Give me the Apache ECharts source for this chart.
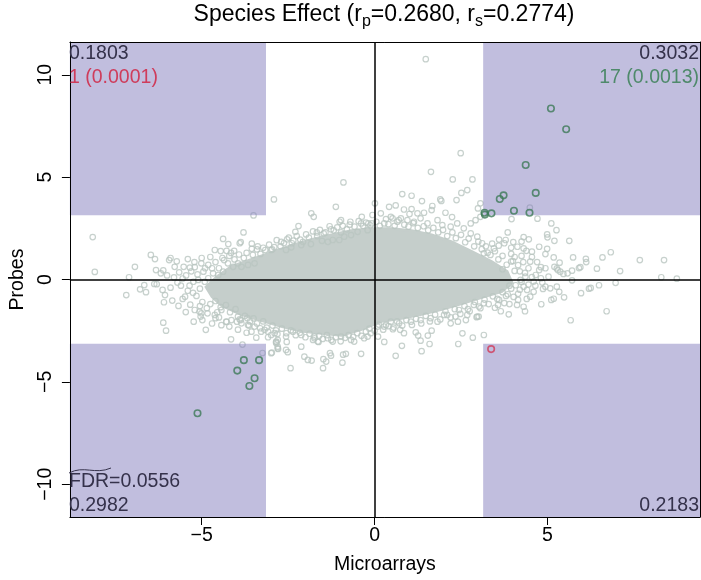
<!DOCTYPE html>
<html>
<head>
<meta charset="utf-8">
<script src="https://cdn.jsdelivr.net/npm/echarts@6/dist/echarts.min.js"></script>
<style>html,body{margin:0;padding:0;background:#fff}#c{width:701px;height:580px}</style>
</head>
<body>
<div id="c"></div>
<script>
// ---------- data ----------
const xRange = [-8.81, 9.41];
const yRange = [-11.6, 11.6];
const threshold = 3.14;
const xTicks = [-5, 0, 5];
const yTicks = [-10, -5, 0, 5, 10];
const titleParts = ['Species Effect (r', 'p', '=0.2680, r', 's', '=0.2774)'];
const cornerTop = { left: '0.1803', right: '0.3032' };
const cornerBottom = { left: '0.2982', right: '0.2183' };
const countLeft = '1 (0.0001)';
const countRight = '17 (0.0013)';
const fdrLabel = 'FDR=0.0556';

// outline of the saturated (overlapping) dense core of the grey cloud
const coreOutline = [
  [-4.87,-0.37],[-4.57,0.12],[-4.14,0.63],[-3.57,0.97],[-2.99,1.31],[-2.41,1.65],[-1.83,1.94],
  [-1.25,2.18],[-0.67,2.38],[-0.09,2.48],[0.49,2.48],[1.07,2.38],[1.65,2.18],[2.23,1.84],
  [2.81,1.36],[3.39,0.87],[3.83,0.39],[3.97,-0.15],[3.68,-0.58],[3.10,-0.87],[2.52,-1.17],
  [1.94,-1.46],[1.36,-1.70],[0.78,-1.89],[0.20,-2.04],[-0.38,-2.43],[-0.96,-2.72],[-1.54,-2.62],
  [-2.12,-2.52],[-2.70,-2.28],[-3.28,-1.99],[-3.86,-1.70],[-4.43,-1.26],[-4.70,-0.83]
];

// sparse and outlying probes
const greyPoints = [
  [1.48,10.76],[2.49,6.17],[-8.15,2.07],[-8.09,0.37],
  [-2.91,3.91],[-0.90,4.74],[-3.50,3.13],[-1.12,3.55],[0.01,3.72],[-1.83,3.23],[-1.76,3.06],[-3.79,2.30],
  [-2.20,2.61],[-2.29,2.33],[-4.38,1.98],[-4.23,1.73],[-3.87,1.83],[-3.90,1.77],[-4.62,1.44],[-4.45,1.39],
  [-4.28,1.40],[-4.06,1.40],[-3.55,1.50],[-3.40,1.47],[-3.16,1.44],
  [-6.47,1.20],[-6.35,1.00],[-6.93,0.62],[-7.10,0.11],[-7.18,-0.76],[-6.32,0.46],[-6.11,0.45],[-6.18,0.30],
  [-5.90,1.05],[-5.94,0.95],[-5.72,0.89],[-5.78,0.62],[-5.52,0.62],[-5.34,0.58],[-5.21,0.85],[-6.66,-0.27],
  [-6.78,-0.48],[-6.61,-0.62],[-6.37,-0.22],[-6.30,-0.23],[-6.13,-0.51],[-6.06,-0.76],[-6.09,-1.11],
  [-5.85,-1.03],[-5.67,-1.29],[-5.48,-0.84],[-5.33,-1.23],[-5.46,-1.59],[-5.23,-2.06],[-6.11,-2.11],[-6.03,-2.50],
  [-5.06,-1.57],[-5.03,-1.81],[-4.98,-1.98],[-4.88,-2.46],[-4.83,-1.65],[-4.60,-1.89],[-4.43,-2.23],
  [-4.28,-2.07],[-4.15,-2.92],
  [-3.98,-2.06],[-3.87,-1.98],[-3.68,-1.89],[-3.63,-2.25],[-3.56,-2.55],[-3.42,-2.84],[-3.31,-2.38],
  [-3.08,-2.82],[-2.85,-3.06],[-2.81,-2.66],[-3.82,-3.18],[-3.24,-3.59],
  [-2.97,-3.57],[-2.79,-3.39],[-2.54,-3.05],[-2.51,-3.55],[-2.12,-3.28],[-2.03,-3.77],[-1.74,-2.79],
  [-1.62,-3.05],[-1.29,-3.60],[-1.26,-3.72],[-0.91,-3.67],[-0.39,-3.63],[-0.20,-2.79],[0.28,-3.05],[0.61,-3.73],
  [-2.43,-4.33],[-1.93,-3.93],[-1.82,-3.96],[-1.48,-3.89],[-1.40,-4.01],[-0.93,-4.06],[-0.83,-3.63],[-1.49,-4.33],
  [-1.01,2.82],[-0.97,2.90],[-0.70,2.82],[-1.67,2.30],[-1.47,2.25],[-1.26,2.45],[-1.52,1.89],[-0.97,2.30],
  [-0.37,3.06],[-0.39,2.74],[-0.18,2.74],[-0.06,3.15],[-0.08,2.74],[-2.70,1.84],[-2.53,1.96],[-2.39,1.77],[-2.96,1.47],
  [1.63,5.26],[2.26,4.89],[2.83,4.89],[2.68,4.37],[2.51,4.23],[2.37,3.88],[0.80,4.17],[1.07,4.09],[1.37,3.83],
  [0.42,3.55],[0.61,3.62],[0.85,3.42],[1.07,3.44],[1.67,3.59],[1.65,3.39],[1.90,3.91],[1.93,3.84],[2.05,3.26],
  [2.24,3.05],[0.47,3.06],[0.52,2.99],[0.76,2.99],[1.01,3.20],[1.24,3.23],[1.43,3.26],[3.06,3.72],[2.99,3.47],
  [2.78,2.74],[2.92,2.90],[3.06,3.06],[3.16,3.23],
  [0.79,-3.24],[1.36,-3.50],[1.59,-3.15],[2.42,-3.15],[2.54,-2.63],[2.84,-2.84],[3.16,-2.71],[0.10,-2.79],
  [1.19,-2.58],[1.26,-2.74],[1.33,-2.99],[1.54,-2.74],[1.65,-2.50],[0.85,-2.62],[0.74,-2.46],[0.53,-2.43],[0.28,-2.30],
  [1.82,-2.06],[2.10,-1.73],[2.34,-1.81],[2.41,-2.06],[2.68,-1.73],[2.97,-1.81],[2.70,-1.45],[3.06,-1.40],
  [3.96,2.95],[4.71,2.97],[5.11,2.74],[5.26,2.41],[4.99,2.20],[5.00,2.06],[5.20,1.89],[5.63,1.89],[4.31,2.07],
  [4.46,1.96],[4.01,1.83],[3.79,1.93],[3.75,1.77],[3.59,1.65],[3.45,1.52],[3.27,1.31],[4.31,1.52],[4.39,1.40],
  [4.55,1.36],[4.50,0.87],[4.76,1.60],[4.94,1.24],[4.99,1.50],[5.18,1.08],[5.35,0.82],[5.20,0.62],[5.30,0.46],
  [5.46,0.27],[5.71,0.43],[5.91,0.56],[5.95,0.60],[5.74,1.08],[6.11,1.01],[6.12,0.85],[6.43,0.53],[6.59,1.08],
  [6.83,1.33],[7.10,0.41],[7.67,0.95],[8.37,0.95],[8.29,0.11],[8.74,0.04],[6.97,-0.16],[6.49,-0.28],[6.20,-0.45],
  [5.97,-0.67],[6.25,-0.41],[6.71,-1.55],[5.67,-1.99],[5.48,-0.87],[5.34,-0.60],[5.18,-0.94],[5.11,-1.00],
  [4.82,-1.21],[5.27,-0.35],[5.08,-0.43],[4.94,-0.35],[4.87,-0.46],[5.03,0.14],[4.81,0.06],[4.76,0.46],[4.94,0.55],
  [4.66,0.22],[3.88,-1.70],[4.31,-1.33],[4.12,-1.24],[4.50,-0.84],[4.41,-0.51],[3.01,-1.81],[2.95,-1.84],
  [2.64,-1.98],[2.20,-2.14],[3.57,-1.24],[3.48,-1.38],[4.36,0.14],[4.22,-0.02],[4.31,-0.35],[4.13,1.60],[4.81,0.60],
  [5.71,-0.04],[5.58,0.30],[5.37,0.38],[5.27,0.54],[4.49,3.51],
  [3.70,0.50],[3.90,-0.30],[4.00,0.90],[3.80,-0.80],[4.20,0.40],[4.05,1.10],[3.60,-1.00],[4.60,-0.10],[4.45,0.55],[4.15,-0.70],
  [-2.99,1.44],[-2.56,1.44],[-2.41,1.57],[-2.12,1.68],[-2.07,1.84],[-1.84,1.73],[-1.35,1.84],[-1.21,1.93],
  [-1.02,1.93],[-0.88,2.09],[-0.68,2.17],[-0.49,2.33],[-0.20,2.41],
  [-3.18,-2.46],[-2.89,-2.62],[-2.80,-2.95],[-2.56,-2.79],[-2.36,-2.55],[-2.12,-2.71],[-1.74,-2.87],[-1.64,-3.03],
  [-1.35,-2.87],[-1.21,-3.03],[-0.97,-2.79],[-0.68,-2.95],[-0.59,-3.03],[-0.30,-2.87],[-0.11,-2.62],[-2.84,-3.11],
  [-2.56,-3.44],[-2.99,-3.60],[-2.80,-3.36],
  [0.18,3.23],[0.28,2.74],[0.66,2.82],[0.95,2.90],[1.14,2.82],[1.33,2.99],[1.53,2.74],[1.82,2.90],[1.96,2.66],
  [2.20,2.58],[2.39,2.74],[2.58,2.50],[2.78,2.25],[2.97,2.09],[3.11,1.77],[3.16,1.28],
  [0.09,-2.30],[0.33,-2.22],[0.47,-2.06],[0.71,-2.14],[1.05,-2.06],[1.33,-1.98],[1.62,-1.89],[2.01,-1.73],
  [2.44,-1.49],[2.87,-1.24],[3.16,-1.16],
  [-5.01,0.79],[-4.81,0.71],[-4.67,0.30],[-4.52,0.22],[-4.38,0.38],[-4.24,0.79],[-4.09,0.62],[-3.95,0.79],
  [-3.85,0.62],[-3.66,0.71],[-3.47,0.79],[-5.24,-0.11],[-5.10,-0.02],[-4.91,-0.11],[-4.81,0.06],[-5.20,-1.49],
  [-5.01,-1.65],[-4.62,-1.73],[-4.43,-1.49],[-4.29,-2.06],[-4.14,-1.98],[-3.95,-1.81],[-3.85,-2.14],[-3.66,-2.22],
  [-3.47,-2.30],[-3.28,-2.55],[-3.08,-2.55],[-2.99,-2.71],[-2.84,-3.03],[-2.80,-3.28],
  [-5.65,0.35],[-5.45,0.20],[-5.35,-0.30],[-5.70,-0.15],[-5.25,-0.65],[-5.80,0.10],[-5.55,-0.95],[-5.05,-1.30],
  [-4.75,-1.20],[-4.90,0.55],[-5.20,0.60],[-4.60,0.85],[-4.40,1.05],[-4.75,1.10],[-4.15,1.30],[-5.00,1.05],
  [-4.50,-1.85],[-4.20,-2.30],[-3.95,-2.45],[-3.70,-2.60],[-4.70,-2.15],[-5.90,-0.40],[-6.00,0.20],[-5.40,1.00],[-3.55,1.75],
  [3.65,-1.55],[3.90,-1.20],[4.15,-1.00],[4.40,-0.95],[4.60,-0.60],[4.70,0.85],[4.55,1.10],[4.25,1.85],
  [3.95,1.55],[3.60,1.95],[3.40,1.75],[3.85,2.30],[4.65,-0.30],[4.85,-0.15],[4.35,-1.55]
];

// tightly packed probes hugging the dense core
const fringePoints = [
  [-4.50,0.55],[-4.35,0.95],[-4.20,1.15],[-4.05,0.98],[-3.92,1.22],[-3.78,1.05],[-3.70,1.30],[-3.52,1.20],
  [-3.38,1.62],[-3.30,1.25],[-3.22,1.55],[-3.05,1.70],[-2.90,1.58],[-2.83,1.92],[-2.72,1.62],[-2.62,1.78],
  [-2.48,2.05],[-2.35,1.90],[-2.25,2.12],[-2.15,1.95],[-1.98,2.20],[-1.90,2.05],[-1.78,2.35],[-1.66,2.12],
  [-1.58,2.42],[-1.42,2.30],[-1.30,2.60],[-1.18,2.40],[-1.08,2.55],[-0.92,2.62],[-0.80,2.45],[-0.72,2.68],
  [-0.58,2.58],[-0.46,2.85],[-0.33,2.62],[-0.25,2.78],[-0.12,2.65],[0.05,2.82],[0.15,2.62],[0.33,2.95],
  [0.40,2.70],[0.58,2.62],[0.70,2.90],[0.86,2.68],[0.98,2.58],[1.12,2.75],[1.25,2.52],[1.42,2.60],[1.55,2.40],
  [1.70,2.52],[1.84,2.30],[1.98,2.42],[2.10,2.12],[2.25,2.30],[2.35,2.02],[2.50,2.18],[2.62,1.82],[2.72,2.00],
  [2.88,1.62],[3.00,1.85],[3.10,1.48],[3.22,1.62],[3.35,1.20],[3.48,1.38],[3.58,0.98],[3.70,1.15],[3.82,0.72],
  [3.95,0.88],[4.05,0.42],[4.15,0.70],
  [-4.60,-1.05],[-4.45,-1.35],[-4.30,-1.25],[-4.18,-1.60],[-4.02,-1.45],[-3.90,-1.95],[-3.75,-1.78],[-3.60,-2.05],
  [-3.50,-1.90],[-3.40,-2.15],[-3.22,-2.05],[-3.12,-2.35],[-2.95,-2.25],[-2.85,-2.48],[-2.68,-2.40],[-2.55,-2.62],
  [-2.42,-2.48],[-2.28,-2.72],[-2.16,-2.60],[-2.00,-2.82],[-1.88,-2.65],[-1.78,-2.95],[-1.60,-2.75],[-1.50,-2.90],
  [-1.38,-2.72],[-1.25,-2.95],[-1.12,-2.82],[-0.98,-3.02],[-0.85,-2.85],[-0.75,-2.72],[-0.62,-2.80],[-0.50,-2.62],
  [-0.38,-2.75],[-0.25,-2.55],[-0.15,-2.40],[0.00,-2.50],[0.12,-2.20],[0.25,-2.45],[0.40,-2.28],[0.55,-2.35],
  [0.65,-2.05],[0.80,-2.25],[0.92,-1.98],[1.08,-2.22],[1.20,-1.92],[1.35,-2.15],[1.48,-1.78],[1.60,-2.05],
  [1.75,-1.72],[1.90,-1.95],[2.05,-1.55],[2.20,-1.85],[2.32,-1.45],[2.48,-1.68],[2.60,-1.30],[2.75,-1.55],
  [2.90,-1.10],[3.02,-1.32],[3.18,-0.98],[3.30,-1.20],[3.42,-0.82],[3.55,-0.95],[3.70,-0.62],[3.85,-0.72],
  [3.95,-0.45],[4.08,-0.28],
  [-5.05,-0.45],[-5.12,0.25],[-4.95,0.38],[-5.30,0.40],[-5.40,-0.55],[-5.15,-0.80],[-4.98,-1.10],[-5.55,0.05],
  [-5.60,-0.30],[-4.85,-1.40],[-4.70,0.55],[-4.55,-1.60],
  [4.25,-0.12],[4.35,0.32],[4.20,-0.50],[4.45,-0.25],[4.02,-0.85],[4.30,0.85],[4.55,0.12],[3.95,1.25],[4.25,1.15],[3.75,-1.15]
];

const greenPoints = [
  [5.10,8.35],[5.54,7.34],[4.37,5.59],[4.66,4.23],[3.73,4.11],[3.62,3.93],[4.03,3.36],[4.48,3.26],
  [3.18,3.26],[3.38,3.23],[3.19,3.17],
  [-3.78,-3.94],[-3.34,-3.94],[-3.97,-4.45],[-3.47,-4.82],[-3.62,-5.20],[-5.12,-6.53]
];
const redPoints = [[3.37,-3.40]];

// ---------- chart ----------
const FONT = '"Liberation Sans", Arial, sans-serif';
const FS = 19.5;
const GREY = '#b9c5c1';
const quadrants = [
  [xRange[0], threshold, -threshold, yRange[1]],
  [threshold, threshold, xRange[1], yRange[1]],
  [xRange[0], yRange[0], -threshold, -threshold],
  [threshold, yRange[0], xRange[1], -threshold]
];
const minus = v => v < 0 ? '\u2212' + Math.abs(v) : String(v);

const chart = echarts.init(document.getElementById('c'), null, { renderer: 'canvas' });
const axisBase = {
  type: 'value', splitLine: { show: false }, z: 10,
  axisLine: { show: true, onZero: false, lineStyle: { color: '#000', width: 1 } }
};
const ringSeries = (name, data, z) => ({
  type: 'scatter', name, z, silent: true, symbol: 'circle', symbolSize: 5.5,
  itemStyle: { color: 'rgba(0,0,0,0)', borderColor: GREY, borderWidth: 1.2 },
  data
});
chart.setOption({
  animation: false,
  grid: { left: 68, right: 1, top: 42, bottom: 62, containLabel: false },
  xAxis: [
    Object.assign({}, axisBase, {
      min: xRange[0], max: xRange[1], position: 'bottom',
      axisTick: { show: true, length: 8, customValues: xTicks, lineStyle: { color: '#000' } },
      axisLabel: { customValues: xTicks, formatter: minus, fontFamily: FONT, fontSize: FS, color: '#000', margin: 9 },
      name: 'Microarrays', nameLocation: 'middle', nameGap: 38,
      nameTextStyle: { fontFamily: FONT, fontSize: FS, color: '#000' }
    }),
    Object.assign({}, axisBase, {
      min: xRange[0], max: xRange[1], position: 'top',
      axisTick: { show: false }, axisLabel: { show: false }
    })
  ],
  yAxis: [
    Object.assign({}, axisBase, {
      min: yRange[0], max: yRange[1], position: 'left',
      axisTick: { show: true, length: 8, customValues: yTicks, lineStyle: { color: '#000' } },
      axisLabel: { customValues: yTicks, formatter: minus, rotate: 90, fontFamily: FONT, fontSize: FS, color: '#000', margin: 14 },
      name: 'Probes', nameLocation: 'middle', nameGap: 36, nameRotate: 90,
      nameTextStyle: { fontFamily: FONT, fontSize: FS, color: '#000' }
    }),
    Object.assign({}, axisBase, {
      min: yRange[0], max: yRange[1], position: 'right',
      axisTick: { show: false }, axisLabel: { show: false }
    })
  ],
  series: [
    {
      type: 'custom', name: 'core', z: 1, silent: true,
      data: [[0, 0]],
      renderItem: (params, api) => ({
        type: 'polygon',
        shape: { points: coreOutline.map(p => api.coord(p)) },
        style: { fill: '#c5cecb', stroke: '#c5cecb', lineWidth: 3 }
      })
    },
    ringSeries('fringe', fringePoints, 2),
    ringSeries('probes', greyPoints, 2),
    {
      type: 'custom', name: 'regions', z: 3, silent: true,
      data: quadrants,
      renderItem: (params, api) => {
        const p1 = api.coord([api.value(0), api.value(1)]);
        const p2 = api.coord([api.value(2), api.value(3)]);
        return {
          type: 'rect',
          shape: { x: Math.min(p1[0], p2[0]), y: Math.min(p1[1], p2[1]),
                   width: Math.abs(p2[0] - p1[0]), height: Math.abs(p2[1] - p1[1]) },
          style: { fill: 'rgba(131,125,189,0.5)' }
        };
      }
    },
    {
      type: 'scatter', name: 'concordant', z: 4, silent: true,
      symbol: 'circle', symbolSize: 6.5,
      itemStyle: { color: 'rgba(0,0,0,0)', borderColor: '#3d7a58', borderWidth: 1.6 },
      data: greenPoints,
      markLine: {
        silent: true, symbol: ['none', 'none'], label: { show: false },
        lineStyle: { color: '#000', width: 1.5, type: 'solid' },
        emphasis: { disabled: true },
        data: [{ xAxis: 0 }, { yAxis: 0 }]
      }
    },
    {
      type: 'scatter', name: 'discordant', z: 4, silent: true,
      symbol: 'circle', symbolSize: 6.5,
      itemStyle: { color: 'rgba(0,0,0,0)', borderColor: '#d23c5a', borderWidth: 1.6 },
      data: redPoints
    }
  ],
  graphic: [
    { type: 'text', z: 100, style: {
      x: 384, y: 15, align: 'center', verticalAlign: 'middle',
      text: '{a|' + titleParts[0] + '}{s|' + titleParts[1] + '}{a|' + titleParts[2] + '}{s|' + titleParts[3] + '}{a|' + titleParts[4] + '}',
      rich: {
        a: { fontFamily: FONT, fontSize: 23, color: '#000', lineHeight: 30, verticalAlign: 'middle' },
        s: { fontFamily: FONT, fontSize: 16, color: '#000', lineHeight: 16, verticalAlign: 'bottom' }
      } } },
    { type: 'text', z: 100, style: { x: 69, y: 54, text: cornerTop.left, font: FS + 'px ' + FONT, fill: '#35324b', verticalAlign: 'middle', align: 'left' } },
    { type: 'text', z: 100, style: { x: 69, y: 78, text: countLeft, font: FS + 'px ' + FONT, fill: '#cf3c5b', verticalAlign: 'middle', align: 'left' } },
    { type: 'text', z: 100, style: { x: 699, y: 54, text: cornerTop.right, font: FS + 'px ' + FONT, fill: '#35324b', verticalAlign: 'middle', align: 'right' } },
    { type: 'text', z: 100, style: { x: 699, y: 78, text: countRight, font: FS + 'px ' + FONT, fill: '#4f8a6b', verticalAlign: 'middle', align: 'right' } },
    { type: 'text', z: 100, style: { x: 69, y: 482, text: fdrLabel, font: FS + 'px ' + FONT, fill: '#35324b', verticalAlign: 'middle', align: 'left' } },
    { type: 'bezierCurve', z: 100, shape: { x1: 69, y1: 473, cpx1: 84, cpy1: 465, cpx2: 95, cpy2: 475, x2: 111, y2: 468 },
      style: { stroke: '#35324b', lineWidth: 1, fill: null } },
    { type: 'text', z: 100, style: { x: 69, y: 506, text: cornerBottom.left, font: FS + 'px ' + FONT, fill: '#35324b', verticalAlign: 'middle', align: 'left' } },
    { type: 'text', z: 100, style: { x: 699, y: 506, text: cornerBottom.right, font: FS + 'px ' + FONT, fill: '#35324b', verticalAlign: 'middle', align: 'right' } }
  ]
});
</script>
</body>
</html>
